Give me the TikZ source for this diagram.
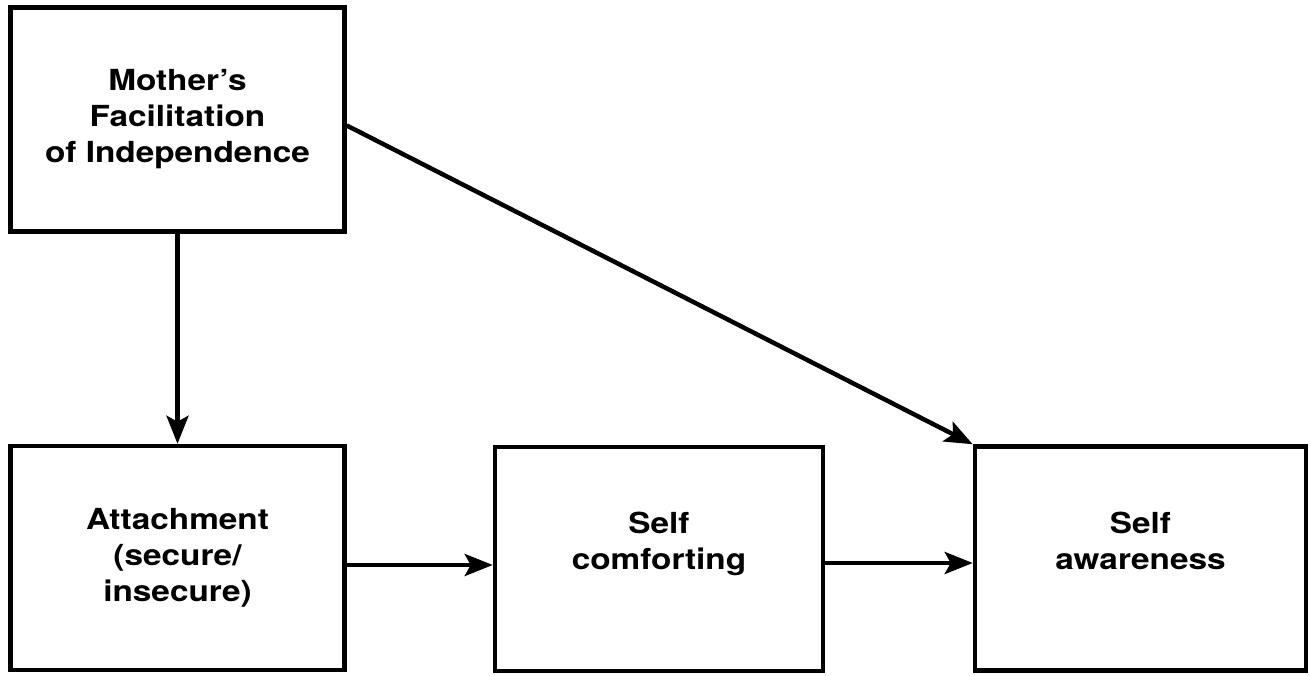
\documentclass[tikz,border=0pt]{standalone}
\usepackage{fontspec}
\setmainfont{TeX Gyre Heros}[FakeStretch=1.15]
\usetikzlibrary{arrows.meta}
\begin{document}
\begin{tikzpicture}[
  x=1pt, y=-1pt,
  box/.style={draw, line width=4.5pt, minimum width=334pt, minimum height=224pt,
    align=center, font=\fontsize{29}{36}\selectfont\bfseries},
  link/.style={line width=4.5pt, -{Stealth[length=28pt, width=22pt, inset=6pt]}}
]
  \useasboundingbox (0,0) rectangle (1311,676);
  \node[box] (mother) at (177.5,119.5) {Mother's\\Facilitation\\of Independence};
  \node[box] (attach) at (177.5,558) {Attachment\\(secure/\\insecure)};
  \node[box, minimum width=328pt] (comfort) at (659,559) {Self\\comforting\\~};
  \node[box, minimum width=331pt] (aware) at (1140.5,558.5) {Self\\awareness\\~};
  % paths
  \draw[link] (mother.south) -- (attach.north);
  \draw[link] ([yshift=-7pt]attach.east) -- ([yshift=-7pt]attach.east -| comfort.west);
  \draw[link] ([yshift=-4pt]comfort.east) -- ([yshift=-4pt]comfort.east -| aware.west);
  \draw[link] ([yshift=-6pt]mother.east) -- (aware.north west);
\end{tikzpicture}
\end{document}
